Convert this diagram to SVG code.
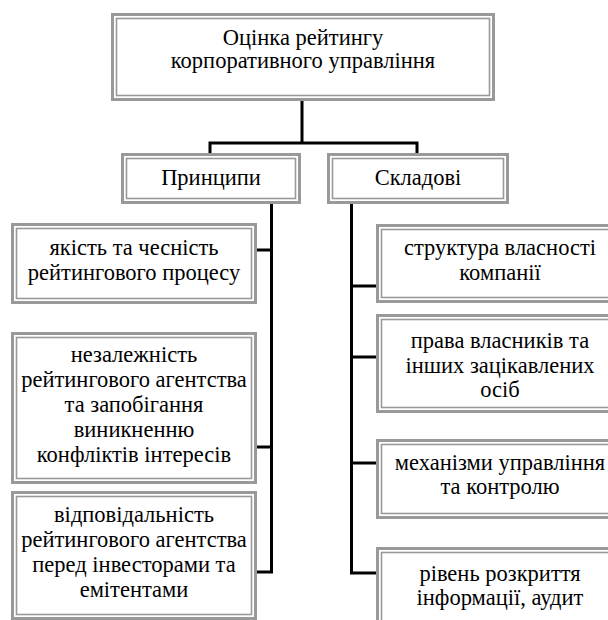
<svg xmlns="http://www.w3.org/2000/svg" width="608" height="620" viewBox="0 0 608 620">
<style>
.o{fill:#fff;stroke:#999;stroke-width:3}
.i{fill:none;stroke:#999;stroke-width:1.6}
text{font-family:"Liberation Serif","Times New Roman",serif;font-size:22.5px;fill:#000;text-anchor:middle}
.c{stroke:#000;stroke-width:3;fill:none}
</style>
<rect width="608" height="620" fill="#fff"/>
<g id="connectors">
<path class="c" d="M302,100V143M210,143H417M210,141.5V155M417,141.5V155"/>
<path class="c" d="M271.5,203V573.5M256,250H273M256,447H273M256,572H273"/>
<path class="c" d="M351.5,203V574.5M350,286H378M350,357H378M350,463H378M350,573H378"/>
</g>
<g id="root">
<rect class="o" x="112.5" y="14.5" width="381" height="85"/>
<rect class="i" x="116.5" y="18.5" width="373" height="77"/>
<text x="303" y="45">Оцінка рейтингу</text>
<text x="303" y="68">корпоративного управління</text>
</g>
<g id="principles">
<rect class="o" x="122.5" y="154.5" width="177" height="48"/>
<rect class="i" x="126.5" y="158.5" width="169" height="40"/>
<text x="211" y="185">Принципи</text>
</g>
<g id="components">
<rect class="o" x="328.5" y="154.5" width="179" height="48"/>
<rect class="i" x="332.5" y="158.5" width="171" height="40"/>
<text x="418" y="185">Складові</text>
</g>
<g id="p1">
<rect class="o" x="12.5" y="224.5" width="243" height="78"/>
<rect class="i" x="16.5" y="228.5" width="235" height="70"/>
<text x="134" y="255">якість та чесність</text>
<text x="134" y="280">рейтингового процесу</text>
</g>
<g id="p2">
<rect class="o" x="12.5" y="333.5" width="243" height="149"/>
<rect class="i" x="16.5" y="337.5" width="235" height="141"/>
<text x="134" y="362">незалежність</text>
<text x="134" y="387">рейтингового агентства</text>
<text x="134" y="412">та запобігання</text>
<text x="134" y="437">виникненню</text>
<text x="134" y="462">конфліктів інтересів</text>
</g>
<g id="p3">
<rect class="o" x="12.5" y="492.5" width="243" height="126"/>
<rect class="i" x="16.5" y="496.5" width="235" height="118"/>
<text x="134" y="522">відповідальність</text>
<text x="134" y="547">рейтингового агентства</text>
<text x="134" y="572">перед інвесторами та</text>
<text x="134" y="597">емітентами</text>
</g>
<g id="c1">
<rect class="o" x="377.5" y="225.5" width="245" height="76"/>
<rect class="i" x="381.5" y="229.5" width="237" height="68"/>
<text x="500" y="255">структура власності</text>
<text x="500" y="280">компанії</text>
</g>
<g id="c2">
<rect class="o" x="377.5" y="315.5" width="245" height="96"/>
<rect class="i" x="381.5" y="319.5" width="237" height="88"/>
<text x="500" y="348">права власників та</text>
<text x="500" y="373">інших зацікавлених</text>
<text x="500" y="397">осіб</text>
</g>
<g id="c3">
<rect class="o" x="377.5" y="440.5" width="245" height="77"/>
<rect class="i" x="381.5" y="444.5" width="237" height="69"/>
<text x="500" y="470">механізми управління</text>
<text x="500" y="494">та контролю</text>
</g>
<g id="c4">
<rect class="o" x="377.5" y="548.5" width="245" height="80"/>
<rect class="i" x="381.5" y="552.5" width="237" height="72"/>
<text x="500" y="581">рівень розкриття</text>
<text x="500" y="605">інформації, аудит</text>
</g>
</svg>
